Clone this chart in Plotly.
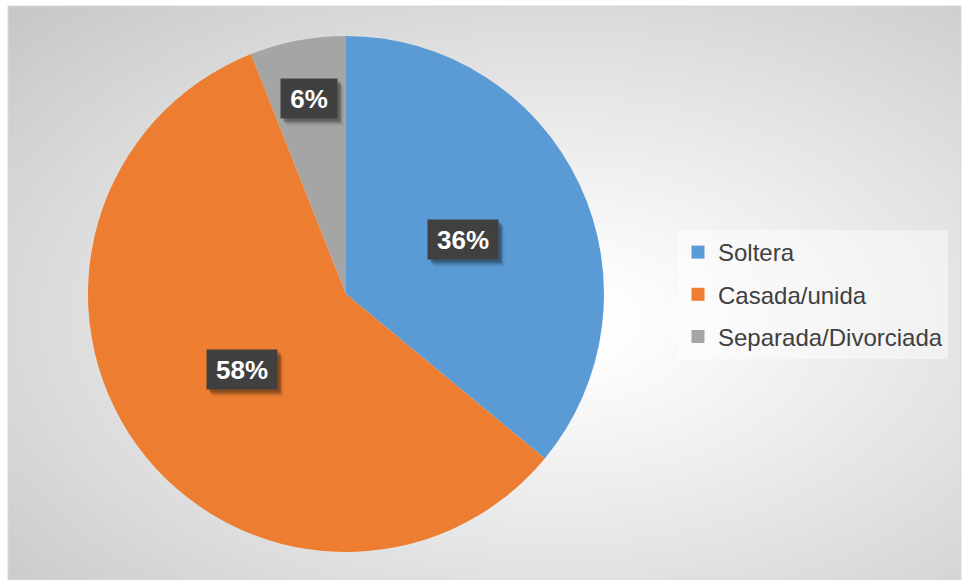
import base64
import struct
import zlib

import numpy as np
import plotly.graph_objects as go

# ---- data -------------------------------------------------------------
categories = ["Soltera", "Casada/unida", "Separada/Divorciada"]
values = [36, 58, 6]
colors = ["#5B9BD5", "#ED7D31", "#A5A5A5"]

# ---- figure geometry (pixels) ------------------------------------------
W, H = 962, 580
PIE_CX, PIE_CY, PIE_R = 346, 294, 258          # pie centre and radius
AREA_X0, AREA_Y0, AREA_X1, AREA_Y1 = 8, 6, 961, 580

# label placement: fraction of the radius along each slice's mid-angle
label_radius = [0.50, 0.50, 0.77]
label_box_w = [70, 70, 56]
label_box_h = 39


def px_to_paper(x, y):
    return x / W, 1 - y / H


def gray_png(arr):
    """Encode a 2-D uint8 array as a grayscale PNG data URI."""
    h, w = arr.shape
    raw = b"".join(b"\x00" + row.tobytes() for row in arr)

    def chunk(tag, data):
        c = struct.pack(">I", len(data)) + tag + data
        return c + struct.pack(">I", zlib.crc32(tag + data) & 0xFFFFFFFF)

    png = b"\x89PNG\r\n\x1a\n"
    png += chunk(b"IHDR", struct.pack(">IIBBBBB", w, h, 8, 0, 0, 0, 0))
    png += chunk(b"IDAT", zlib.compress(raw, 9))
    png += chunk(b"IEND", b"")
    return "data:image/png;base64," + base64.b64encode(png).decode()


# radial white-to-grey backdrop for the chart area
gw, gh = AREA_X1 - AREA_X0, AREA_Y1 - AREA_Y0
yy, xx = np.mgrid[0:gh, 0:gw]
gcx, gcy = 560 - AREA_X0, 320 - AREA_Y0
d = np.sqrt(((xx - gcx) / 560.0) ** 2 + ((yy - gcy) / 330.0) ** 2)
shade = np.clip(258 - 42 * d ** 1.1, 198, 255).astype(np.uint8)
backdrop = gray_png(shade)

fig = go.Figure()

# pie domain from centre/radius
dx0, dy1 = px_to_paper(PIE_CX - PIE_R, PIE_CY - PIE_R)
dx1, dy0 = px_to_paper(PIE_CX + PIE_R, PIE_CY + PIE_R)
fig.add_trace(go.Pie(
    labels=categories,
    values=values,
    sort=False,
    direction="clockwise",
    rotation=0,
    marker=dict(colors=colors, line=dict(width=0)),
    textinfo="none",
    hoverinfo="label+percent",
    showlegend=False,
    domain=dict(x=[dx0, dx1], y=[dy0, dy1]),
))

# legend entries (square swatches)
for cat, col in zip(categories, colors):
    fig.add_trace(go.Scatter(
        x=[None], y=[None], mode="markers", name=cat, legendgroup=cat,
        marker=dict(symbol="square", size=13, color=col, line=dict(width=0)),
        hoverinfo="skip",
    ))

# percentage labels in dark boxes with a soft drop shadow
total = float(sum(values))
annotations = []
start = 0.0
for v, rf, bw in zip(values, label_radius, label_box_w):
    frac = v / total
    mid = (start + frac / 2) * 2 * np.pi
    start += frac
    lx = PIE_CX + rf * PIE_R * np.sin(mid)
    ly = PIE_CY - rf * PIE_R * np.cos(mid)
    ax, ay = px_to_paper(lx, ly)
    text = f"{round(frac * 100)}%"
    common = dict(x=ax, y=ay, xref="paper", yref="paper", showarrow=False,
                  xanchor="center", yanchor="middle",
                  width=bw, height=label_box_h, borderpad=0)
    for sx, sy, a in [(6, -7, 0.08), (4, -5, 0.16), (3, -3, 0.22)]:
        annotations.append(dict(
            common, text=" ", bgcolor=f"rgba(0,0,0,{a})",
            xshift=sx, yshift=sy, font=dict(size=26),
        ))
    annotations.append(dict(
        common, text=f"<b>{text}</b>", bgcolor="#404040",
        font=dict(family="Liberation Sans, Arial, sans-serif", size=26,
                  color="white"),
    ))

ix0, iy0 = px_to_paper(AREA_X0, AREA_Y0)
fig.update_layout(
    width=W, height=H,
    margin=dict(l=0, r=0, t=0, b=0),
    paper_bgcolor="white",
    plot_bgcolor="rgba(0,0,0,0)",
    xaxis=dict(visible=False),
    yaxis=dict(visible=False),
    images=[dict(
        source=backdrop, xref="paper", yref="paper",
        x=ix0, y=iy0, sizex=gw / W, sizey=gh / H,
        xanchor="left", yanchor="top", sizing="stretch", layer="below",
    )],
    shapes=[dict(
        type="rect", xref="paper", yref="paper",
        x0=ix0, y0=0, x1=AREA_X1 / W, y1=iy0,
        line=dict(color="#D9D9D9", width=1), fillcolor="rgba(0,0,0,0)",
        layer="below",
    )],
    annotations=annotations,
    legend=dict(
        x=678 / W, y=1 - 230 / H, xanchor="left", yanchor="top",
        bgcolor="rgba(255,255,255,0.45)",
        borderwidth=0,
        font=dict(family="Liberation Sans, Arial, sans-serif", size=24,
                  color="#404040"),
        tracegroupgap=8,
        traceorder="grouped",
        itemclick=False,
    ),
    showlegend=True,
)

fig.write_html("out.html")
